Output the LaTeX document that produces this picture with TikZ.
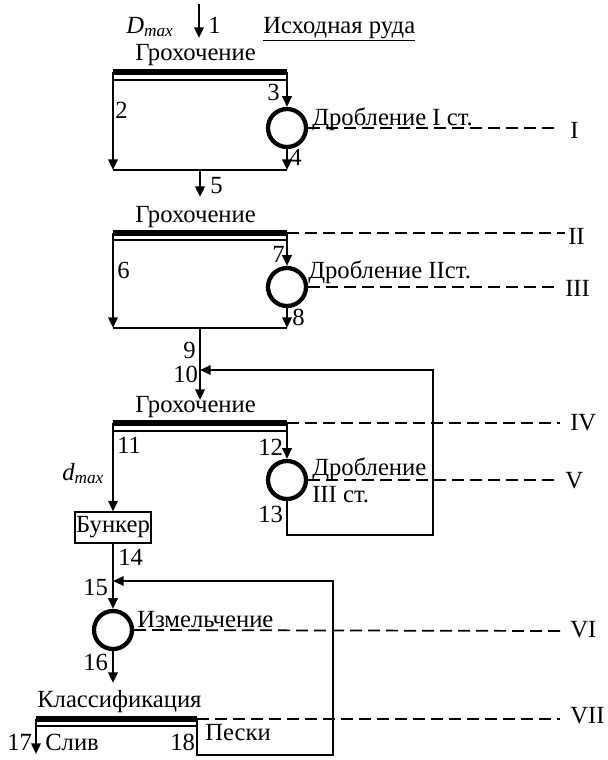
\documentclass[tikz,border=0pt]{standalone}
\usepackage{fontspec}
\setmainfont{Liberation Serif}
\usetikzlibrary{arrows.meta}
\begin{document}
\begin{tikzpicture}[x=0.75pt,y=-0.75pt,
  txt/.style={inner sep=0pt, anchor=base west, font=\fontsize{18.5}{22}\selectfont},
  tip/.style={-{Triangle[length=8pt,width=7pt]}},
  flow/.style={line width=1.8pt, tip},
  coll/.style={line width=1.2pt},
  ret/.style={line width=1.4pt},
  bar/.style={line width=4.5pt},
  sieve/.style={line width=1pt},
  mill/.style={circle, draw, line width=3.2pt, minimum size=28.5pt, inner sep=0pt},
  level/.style={line width=1.3pt, dash pattern=on 9pt off 4.5pt},
  bunkerbox/.style={draw, line width=1.1pt, minimum width=57pt, minimum height=23pt, inner sep=0pt, font=\fontsize{18.5}{22}\selectfont}
]
\useasboundingbox (0,0) rectangle (607,760);

% ---------- top ----------
\node[txt] (dmax) at (126,33) {\itshape D\textsubscript{max}};
\coordinate (feed) at (199,4);
\coordinate (s1m) at (199,38);
\draw[flow] (feed) -- (s1m);
\node[txt] (n1) at (208,33) {1};
\node[txt] (ore) at (263,33) {\underline{Исходная руда}};

% ---------- group 1 ----------
\node[txt] (g1) at (135,60) {Грохочение};
\coordinate (s1l) at (113,72); \coordinate (s1r) at (287,72);
\draw[bar] (s1l) -- (s1r);
\draw[sieve] (113,80) -- (287,80);
\node[mill] (m1) at (287,128) {};
\coordinate (c1l) at (113,170); \coordinate (c1r) at (287,170);
\draw[flow] (s1l) -- (c1l);
\draw[flow] (s1r) -- (m1.north);
\draw[flow] (m1.south) -- (c1r);
\draw[coll] (c1l) -- (c1r);
\coordinate (c1m) at (200,170); \coordinate (in2) at (200,197);
\draw[flow] (c1m) -- (in2);
\node[txt] (n2) at (115,118) {2};
\node[txt] (n3) at (267,100) {3};
\node[txt] (n4) at (289,165) {4};
\node[txt] (n5) at (210,193) {5};
\node[txt] (d1) at (312,125) {Дробление I ст.};
\coordinate (lv1) at (560,128);
\draw[level] (m1.east) -- (lv1);
\node[txt, anchor=west] (r1) at (570,130) {I};

% ---------- group 2 ----------
\node[txt] (g2) at (135,222) {Грохочение};
\coordinate (s2l) at (113,233); \coordinate (s2r) at (287,233);
\draw[bar] (s2l) -- (s2r);
\draw[sieve] (113,240) -- (287,240);
\node[mill] (m2) at (287,287) {};
\coordinate (c2l) at (113,328); \coordinate (c2r) at (287,328);
\draw[flow] (s2l) -- (c2l);
\draw[flow] (s2r) -- (m2.north);
\draw[flow] (m2.south) -- (c2r);
\draw[coll] (c2l) -- (c2r);
\node[txt] (n6) at (117,278) {6};
\node[txt] (n7) at (272,262) {7};
\node[txt] (n8) at (292,325) {8};
\node[txt] (d2) at (308,278) {Дробление IIст.};
\coordinate (lv2) at (565,233);
\draw[level] (s2r) -- (lv2);
\node[txt, anchor=west] (r2) at (568,236) {II};
\coordinate (lv3) at (560,287);
\draw[level] (m2.east) -- (lv3);
\node[txt, anchor=west] (r3) at (565,288) {III};

\coordinate (c2m) at (200,328); \coordinate (j10) at (200,370); \coordinate (in3) at (200,400);
\draw[flow] (c2m) -- (in3);
\node[txt] (n9) at (183,358) {9};
\node[txt] (n10) at (173,382) {10};

% ---------- group 3 ----------
\node[txt] (g3) at (135,412) {Грохочение};
\coordinate (s3l) at (113,423); \coordinate (s3r) at (287,423);
\draw[bar] (s3l) -- (s3r);
\draw[sieve] (113,431) -- (287,431);
\node[mill] (m3) at (287,480) {};
\node[bunkerbox] (bunk) at (113,527.5) {Бункер};
\draw[flow] (s3l) -- (bunk.north);
\draw[flow] (s3r) -- (m3.north);
\coordinate (r3c) at (433,535);
\draw[ret, tip] (m3.south) |- (r3c) |- (j10);
\node[txt] (n11) at (117,453) {11};
\node[txt] (n12) at (258,455) {12};
\node[txt] (n13) at (258,522) {13};
\node[txt] (dmin) at (62,480) {\itshape d\textsubscript{max}};
\node[txt] (d3a) at (312,475) {Дробление};
\node[txt] (d3b) at (312,502) {III ст.};
\coordinate (lv4) at (560,423);
\draw[level] (s3r) -- (lv4);
\node[txt, anchor=west] (r4) at (570,423) {IV};
\coordinate (lv5) at (560,480);
\draw[level] (m3.east) -- (lv5);
\node[txt, anchor=west] (r5) at (565,481) {V};
\node[txt] (n14) at (118,565) {14};

% ---------- group 4 ----------
\node[mill] (m4) at (113,630) {};
\coordinate (j15) at (113,581);
\draw[flow] (bunk.south) -- (m4.north);
\node[txt] (n15) at (83,595) {15};
\node[txt] (izm) at (137,627) {Измельчение};
\coordinate (lv6) at (560,631);
\draw[level] (m4.east) -- (lv6);
\node[txt, anchor=west] (r6) at (570,630) {VI};
\coordinate (in5) at (113,683);
\draw[flow] (m4.south) -- (in5);
\node[txt] (n16) at (83,670) {16};

\node[txt] (klass) at (37,707) {Классификация};
\coordinate (s4l) at (36,719); \coordinate (s4r) at (197,719);
\draw[bar] (s4l) -- (s4r);
\draw[sieve] (36,726) -- (197,726);
\coordinate (out17) at (36,754);
\draw[flow] (s4l) -- (out17);
\coordinate (r4c) at (333,755);
\draw[ret, tip] (s4r) |- (r4c) |- (j15);
\coordinate (lv7) at (560,719);
\draw[level] (s4r) -- (lv7);
\node[txt, anchor=west] (r7) at (570,716) {VII};
\node[txt] (n17) at (7,750) {17};
\node[txt] (sliv) at (45,750) {Слив};
\node[txt] (n18) at (170,750) {18};
\node[txt] (peski) at (205,740) {Пески};
\end{tikzpicture}
\end{document}
